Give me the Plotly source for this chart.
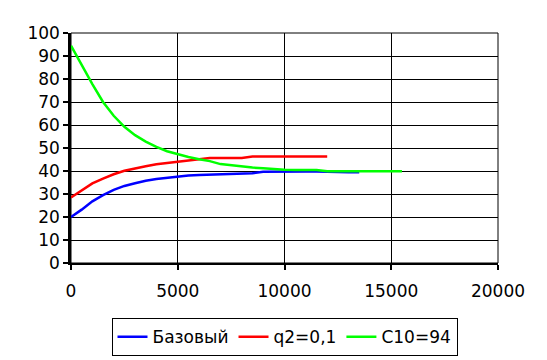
import plotly.graph_objects as go

x_base = [0, 500, 1000, 1500, 2000, 2500, 3000, 3500, 4000, 4500, 5000, 5500, 6000, 6500,
          7000, 7500, 8000, 8500, 9000, 9500, 10000, 10500, 11000, 11500, 12000, 12500,
          13000, 13500]
y_base = [20, 23.2, 26.8, 29.5, 31.8, 33.5, 34.7, 35.8, 36.5, 37.1, 37.6, 38.0, 38.3, 38.5,
          38.7, 38.8, 38.9, 39.0, 39.7, 39.8, 39.8, 39.8, 39.8, 39.8, 39.6, 39.5, 39.5, 39.5]

x_q2 = [0, 500, 1000, 1500, 2000, 2500, 3000, 3500, 4000, 4500, 5000, 5500, 6000, 6500,
        7000, 7500, 8000, 8500, 9000, 9500, 10000, 10500, 11000, 11500, 12000]
y_q2 = [28.5, 31.5, 34.6, 36.7, 38.6, 40.1, 41.2, 42.1, 42.9, 43.5, 44.0, 44.5, 45.0, 45.7,
        45.7, 45.7, 45.7, 46.3, 46.3, 46.3, 46.3, 46.3, 46.3, 46.3, 46.3]

x_c10 = [0, 500, 1000, 1500, 2000, 2500, 3000, 3500, 4000, 4500, 5000, 5500, 6000, 6500,
         7000, 7500, 8000, 8500, 9000, 9500, 10000, 10500, 11000, 11500, 12000, 12500,
         13000, 13500, 14000, 14500, 15000, 15500]
y_c10 = [94.5, 86.0, 77.8, 70.0, 64.0, 59.2, 55.6, 52.8, 50.5, 48.6, 47.2, 46.1, 45.1, 44.3,
         43.0, 42.4, 42.0, 41.5, 41.2, 40.8, 40.5, 40.4, 40.4, 40.4, 39.9, 39.9,
         39.9, 39.9, 39.9, 39.9, 39.9, 39.9]

names = ["Базовый", "q2=0,1", "C10=94"]
x_ticks = [0, 5000, 10000, 15000, 20000]
y_ticks = [0, 10, 20, 30, 40, 50, 60, 70, 80, 90, 100]

fig = go.Figure()
for xs, ys, nm, col in [(x_base, y_base, names[0], "#0000FF"),
                        (x_q2, y_q2, names[1], "#FF0000"),
                        (x_c10, y_c10, names[2], "#00FF00")]:
    fig.add_trace(go.Scatter(x=xs, y=ys, name=nm, mode="lines",
                             line=dict(color=col, width=2.5)))

font = dict(family="DejaVu Sans", size=17, color="#000000")
fig.update_layout(
    width=547, height=360,
    margin=dict(l=63, r=57, t=25, b=103),
    paper_bgcolor="white", plot_bgcolor="white",
    font=font,
    showlegend=True,
    legend=dict(orientation="h", x=0.5, xanchor="center", y=-0.24, yanchor="top",
                bordercolor="#000000", borderwidth=1, font=font,
                itemwidth=30, tracegroupgap=0),
    xaxis=dict(range=[0, 20000], tickvals=x_ticks, ticktext=[str(v) for v in x_ticks],
               showgrid=True, gridcolor="#000000", gridwidth=1,
               showline=True, linecolor="#000000", linewidth=2,
               ticks="outside", ticklen=5, tickwidth=2, tickcolor="#000000",
               zeroline=False, ticklabelstandoff=7, tickfont=font),
    yaxis=dict(range=[0, 100], tickvals=y_ticks,
               showgrid=True, gridcolor="#000000", gridwidth=1,
               showline=True, linecolor="#000000", linewidth=2.5,
               ticks="outside", ticklen=5, tickwidth=2, tickcolor="#000000",
               zeroline=False, tickfont=font),
)
fig.add_shape(type="rect", xref="paper", yref="paper", x0=0, y0=0, x1=1, y1=1,
              line=dict(color="#000000", width=1), layer="below")
fig.write_html("out.html")
